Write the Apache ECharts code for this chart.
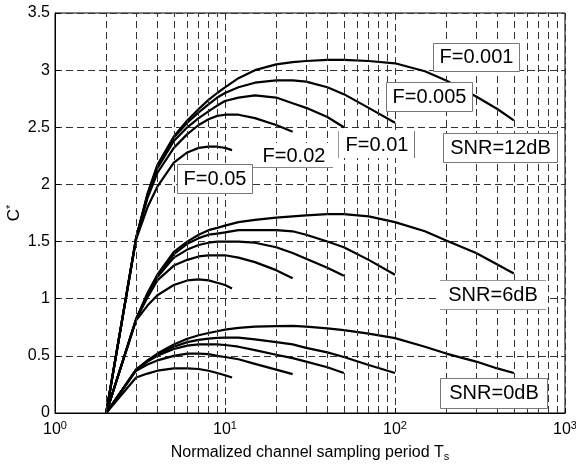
<!DOCTYPE html>
<html><head><meta charset="utf-8">
<script src="https://cdn.jsdelivr.net/npm/echarts@6/dist/echarts.min.js"></script>
<style>html,body{margin:0;padding:0;background:#fff}#c{width:576px;height:464px}</style>
</head><body><div id="c"></div>
<script>
// Sampling periods (x values) per F
var T_F0001 = [2,3,3.5,4,5,6,7,8,9,10,12,15,20,25,30,40,50,70,100,150,200,300,400,500];
var T_F0005 = [2,3,3.5,4,5,6,7,8,9,10,12,15,20,25,30,40,50,70,100];
var T_F001  = [2,3,3.5,4,5,6,7,8,9,10,12,15,20,25,30,40,50];
var T_F002  = [2,3,3.5,4,5,6,7,8,9,10,12,15,20,25];
var T_F005  = [2,3,3.5,4,5,6,7,8,9,10,11];

// SNR = 12 dB
var C12_F0001 = [0,1.53,1.92,2.17,2.42,2.56,2.66,2.74,2.80,2.85,2.93,3.0,3.05,3.07,3.08,3.09,3.09,3.08,3.06,2.99,2.91,2.77,2.66,2.56];
var C12_F0005 = [0,1.53,1.91,2.16,2.41,2.54,2.63,2.70,2.76,2.80,2.85,2.89,2.91,2.91,2.90,2.85,2.79,2.67,2.54];
var C12_F001  = [0,1.53,1.9,2.14,2.38,2.5,2.58,2.64,2.69,2.73,2.76,2.78,2.76,2.71,2.67,2.59,2.5];
var C12_F002  = [0,1.53,1.88,2.1,2.32,2.44,2.52,2.57,2.6,2.61,2.61,2.58,2.52,2.46];
var C12_F005  = [0,1.52,1.8,1.98,2.19,2.28,2.32,2.33,2.33,2.32,2.3];
// SNR = 6 dB
var C6_F0001 = [0,0.82,1.05,1.21,1.41,1.5,1.56,1.6,1.62,1.64,1.67,1.69,1.71,1.72,1.73,1.74,1.74,1.72,1.67,1.59,1.51,1.4,1.3,1.22];
var C6_F0005 = [0,0.82,1.04,1.2,1.39,1.48,1.53,1.56,1.57,1.58,1.6,1.6,1.6,1.59,1.56,1.5,1.45,1.34,1.21];
var C6_F001  = [0,0.82,1.03,1.19,1.36,1.43,1.47,1.49,1.5,1.5,1.5,1.49,1.45,1.4,1.35,1.27,1.2];
var C6_F002  = [0,0.82,1.01,1.16,1.29,1.34,1.37,1.38,1.38,1.38,1.36,1.32,1.25,1.18];
var C6_F005  = [0,0.81,0.94,1.03,1.12,1.16,1.17,1.16,1.14,1.12,1.09];
// SNR = 0 dB
var C0_F0001 = [0,0.38,0.46,0.52,0.6,0.65,0.68,0.7,0.715,0.73,0.745,0.755,0.76,0.762,0.755,0.74,0.725,0.695,0.655,0.58,0.52,0.45,0.39,0.35];
var C0_F0005 = [0,0.38,0.455,0.51,0.58,0.62,0.64,0.65,0.657,0.66,0.66,0.645,0.62,0.6,0.57,0.53,0.49,0.42,0.35];
var C0_F001  = [0,0.38,0.45,0.5,0.56,0.59,0.6,0.6,0.6,0.595,0.58,0.55,0.51,0.48,0.45,0.4,0.35];
var C0_F002  = [0,0.37,0.425,0.46,0.5,0.52,0.52,0.515,0.5,0.49,0.47,0.43,0.38,0.34];
var C0_F005  = [0,0.31,0.345,0.37,0.39,0.39,0.385,0.37,0.35,0.33,0.31];

// Axis ticks
var xTicks = [1,10,100,1000];
var yTicks = [0,0.5,1,1.5,2,2.5,3,3.5];
var minorGridX = [2,3,4,5,6,7,8,9,20,30,40,50,60,70,80,90,200,300,400,500,600,700,800,900];

var curves = [
  ['SNR=12dB F=0.001', T_F0001, C12_F0001],
  ['SNR=12dB F=0.005', T_F0005, C12_F0005],
  ['SNR=12dB F=0.01',  T_F001,  C12_F001],
  ['SNR=12dB F=0.02',  T_F002,  C12_F002],
  ['SNR=12dB F=0.05',  T_F005,  C12_F005],
  ['SNR=6dB F=0.001', T_F0001, C6_F0001],
  ['SNR=6dB F=0.005', T_F0005, C6_F0005],
  ['SNR=6dB F=0.01',  T_F001,  C6_F001],
  ['SNR=6dB F=0.02',  T_F002,  C6_F002],
  ['SNR=6dB F=0.05',  T_F005,  C6_F005],
  ['SNR=0dB F=0.001', T_F0001, C0_F0001],
  ['SNR=0dB F=0.005', T_F0005, C0_F0005],
  ['SNR=0dB F=0.01',  T_F001,  C0_F001],
  ['SNR=0dB F=0.02',  T_F002,  C0_F002],
  ['SNR=0dB F=0.05',  T_F005,  C0_F005]
];

var FONT = 'Liberation Sans, Arial, Helvetica, sans-serif';
var gridDash = {type:[7,4], color:'#333', width:1};

var series = [{
  name:'minor grid', type:'line', data:[], z:1, silent:true,
  markLine:{silent:true, symbol:['none','none'], label:{show:false}, animation:false,
    lineStyle:gridDash, emphasis:{disabled:true},
    data: minorGridX.map(function(v){return {xAxis:v};})}
}];
curves.forEach(function(c){
  series.push({
    name:c[0], type:'line', showSymbol:false, symbol:'none', z:3,
    lineStyle:{color:'#000', width:2.2, join:'round'},
    data:c[1].map(function(t,i){return [t, c[2][i]];})
  });
});

function txt(s, x, y){
  return {type:'text', z:101, style:{text:s, x:x, y:y, fill:'#000',
    font:'20px ' + FONT, align:'center', verticalAlign:'middle',
    textAlign:'center', textVerticalAlign:'middle'}};
}
function rect(x,y,w,h,stroke){
  return {type:'rect', z:100, shape:{x:x,y:y,width:w,height:h},
    style:{fill:'#fff', stroke:stroke||'none', lineWidth:1}};
}
function line(x1,y1,x2,y2,color){
  return {type:'line', z:101, shape:{x1:x1,y1:y1,x2:x2,y2:y2},
    style:{stroke:color||'#777', lineWidth:1}};
}

var graphics = [
  rect(433.5,43.5,86,28,'#777'), txt('F=0.001',476.5,57.5),
  rect(386.5,82.5,86,29,'#777'), txt('F=0.005',429.5,97),
  rect(338,131,77,27), line(338.5,131,338.5,158,'#999'), line(414.5,131,414.5,158,'#777'), txt('F=0.01',377,145),
  rect(254,143,79,25), line(253,167.5,333,167.5,'#888'), txt('F=0.02',294,156),
  rect(177.5,164.5,75,29,'#777'), txt('F=0.05',215,179),
  rect(443.5,133.5,114,29,'#777'), txt('SNR=12dB',500.5,148),
  rect(440,280,106,30), line(440,280.5,546,280.5,'#999'), line(440,309.5,546,309.5,'#999'), txt('SNR=6dB',493,295),
  rect(440.5,378.5,107,30,'#777'), txt('SNR=0dB',494,393.5)
];

var chart = echarts.init(document.getElementById('c'), null, {renderer:'canvas'});
chart.setOption({
  animation:false,
  backgroundColor:'#fff',
  grid:{left:55, right:11, top:13, bottom:51, show:true, borderColor:'#000', borderWidth:1,
    backgroundColor:'#fff', containLabel:false, outerBoundsMode:'none'},
  xAxis:{
    type:'log', logBase:10, min:xTicks[0], max:xTicks[xTicks.length-1],
    axisLine:{show:true, lineStyle:{color:'#000'}},
    axisTick:{show:true, inside:true, length:5, lineStyle:{color:'#000'}},
    splitLine:{show:true, lineStyle:gridDash},
    axisLabel:{color:'#000', fontFamily:FONT, fontSize:16, lineHeight:20, margin:7, hideOverlap:false,
      formatter:function(v){ return '10{sup|' + Math.round(Math.log10(v)) + '}'; },
      rich:{sup:{fontSize:11, fontFamily:FONT, color:'#000', verticalAlign:'top', lineHeight:10}}},
    name:'Normalized channel sampling period T{sub|s}',
    nameLocation:'middle', nameGap:31, nameMoveOverlap:false,
    nameTextStyle:{color:'#000', fontFamily:FONT, fontSize:16, lineHeight:18,
      rich:{sub:{fontSize:11, fontFamily:FONT, color:'#000', verticalAlign:'bottom', lineHeight:10}}}
  },
  yAxis:{
    type:'value', min:yTicks[0], max:yTicks[yTicks.length-1], interval:0.5,
    axisLine:{show:true, lineStyle:{color:'#000'}},
    axisTick:{show:true, inside:true, length:5, lineStyle:{color:'#000'}},
    splitLine:{show:true, lineStyle:gridDash},
    axisLabel:{color:'#000', fontFamily:FONT, fontSize:16, margin:5},
    name:'C{sup|*}', nameLocation:'middle', nameGap:32, nameMoveOverlap:false,
    nameTextStyle:{color:'#000', fontFamily:FONT, fontSize:17, lineHeight:18,
      rich:{sup:{fontSize:11, fontFamily:FONT, color:'#000', verticalAlign:'top', lineHeight:10}}}
  },
  series:series,
  graphic:{elements:graphics}
});
</script></body></html>
